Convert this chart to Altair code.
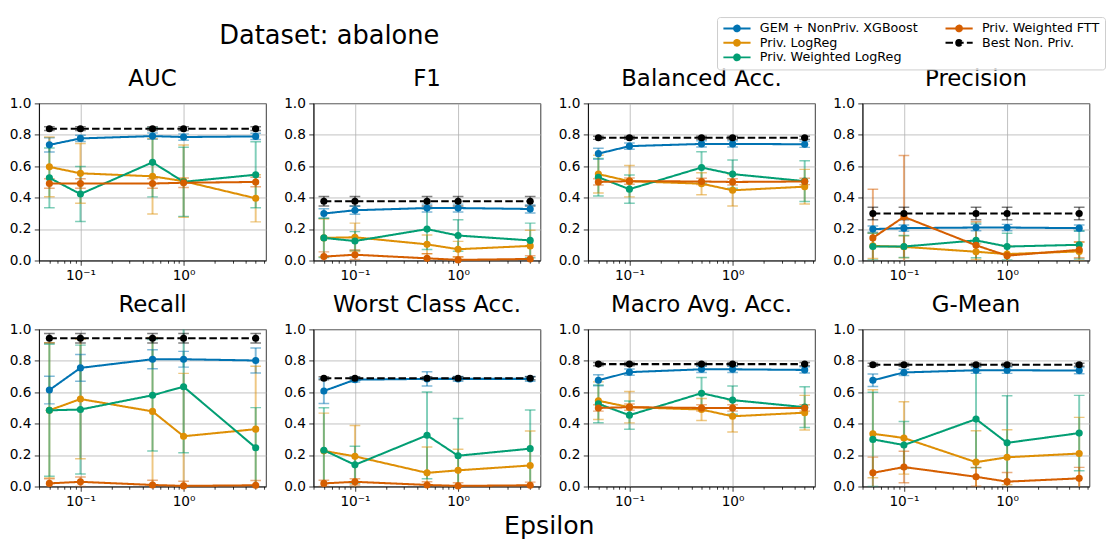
import altair as alt
import pandas as pd

EPS = [0.05, 0.1, 0.5, 1.0, 5.0]
METRICS = ["AUC", "F1", "Balanced Acc.", "Precision",
           "Recall", "Worst Class Acc.", "Macro Avg. Acc.", "G-Mean"]
SERIES = ["GEM + NonPriv. XGBoost", "Priv. LogReg", "Priv. Weighted LogReg",
          "Priv. Weighted FTT", "Best Non. Priv."]
SERIES_COLORS = ["#0173b2", "#de8f05", "#029e73", "#d55e00", "#000000"]
SERIES_DASH = [[1, 0], [1, 0], [1, 0], [1, 0], [7.7, 3.3]]

X_MAJOR = [0.1, 1.0]
X_MINOR = [0.04, 0.05, 0.06, 0.07, 0.08, 0.09, 0.2, 0.3, 0.4, 0.5, 0.6, 0.7,
           0.8, 0.9, 2.0, 3.0, 4.0, 5.0, 6.0]
Y_TICKS = [0.0, 0.2, 0.4, 0.6, 0.8, 1.0]

# each list of lists: one row per series (SERIES order), one value per epsilon
AUC_MEAN = [[0.736, 0.777, 0.792, 0.786, 0.790],
            [0.596, 0.555, 0.536, 0.505, 0.396],
            [0.526, 0.423, 0.625, 0.501, 0.546],
            [0.490, 0.490, 0.490, 0.495, 0.500],
            [0.839, 0.839, 0.839, 0.839, 0.839]]
AUC_ERR = [[0.045, 0.020, 0.020, 0.020, 0.020],
           [0.190, 0.190, 0.240, 0.230, 0.150],
           [0.190, 0.175, 0.220, 0.220, 0.210],
           [0.030, 0.030, 0.030, 0.030, 0.030],
           [0.012, 0.012, 0.012, 0.012, 0.012]]

F1_MEAN = [[0.299, 0.320, 0.334, 0.334, 0.328],
           [0.144, 0.148, 0.103, 0.072, 0.093],
           [0.144, 0.124, 0.200, 0.159, 0.128],
           [0.025, 0.037, 0.014, 0.004, 0.010],
           [0.377, 0.377, 0.377, 0.377, 0.377]]
F1_ERR = [[0.030, 0.025, 0.025, 0.025, 0.025],
          [0.120, 0.090, 0.060, 0.050, 0.100],
          [0.125, 0.060, 0.130, 0.100, 0.110],
          [0.030, 0.030, 0.030, 0.020, 0.020],
          [0.030, 0.030, 0.030, 0.030, 0.030]]

BAL_MEAN = [[0.680, 0.728, 0.742, 0.742, 0.740],
            [0.550, 0.505, 0.489, 0.447, 0.470],
            [0.530, 0.454, 0.592, 0.550, 0.505],
            [0.500, 0.505, 0.503, 0.500, 0.503],
            [0.781, 0.781, 0.781, 0.781, 0.781]]
BAL_ERR = [[0.035, 0.020, 0.020, 0.020, 0.020],
           [0.120, 0.100, 0.070, 0.100, 0.110],
           [0.120, 0.090, 0.100, 0.090, 0.130],
           [0.020, 0.020, 0.020, 0.020, 0.020],
           [0.010, 0.010, 0.010, 0.010, 0.010]]

PREC_MEAN = [[0.200, 0.206, 0.210, 0.210, 0.206],
             [0.093, 0.087, 0.056, 0.041, 0.058],
             [0.089, 0.089, 0.128, 0.089, 0.100],
             [0.144, 0.278, 0.097, 0.031, 0.068],
             [0.299, 0.299, 0.299, 0.299, 0.299]]
PREC_ERR = [[0.020, 0.020, 0.020, 0.020, 0.020],
            [0.080, 0.070, 0.050, 0.050, 0.060],
            [0.085, 0.070, 0.110, 0.085, 0.090],
            [0.310, 0.390, 0.150, 0.060, 0.050],
            [0.040, 0.040, 0.040, 0.040, 0.040]]

REC_MEAN = [[0.614, 0.755, 0.810, 0.810, 0.802],
            [0.485, 0.557, 0.478, 0.320, 0.365],
            [0.485, 0.490, 0.581, 0.635, 0.247],
            [0.020, 0.030, 0.010, 0.004, 0.008],
            [0.944, 0.944, 0.944, 0.944, 0.944]]
REC_ERR = [[0.088, 0.085, 0.060, 0.050, 0.080],
           [0.430, 0.380, 0.470, 0.400, 0.400],
           [0.420, 0.410, 0.355, 0.420, 0.255],
           [0.030, 0.030, 0.030, 0.030, 0.030],
           [0.030, 0.030, 0.030, 0.030, 0.030]]

WORST_MEAN = [[0.608, 0.680, 0.685, 0.685, 0.685],
              [0.227, 0.192, 0.087, 0.103, 0.134],
              [0.231, 0.138, 0.326, 0.196, 0.241],
              [0.020, 0.030, 0.010, 0.004, 0.008],
              [0.689, 0.689, 0.689, 0.689, 0.689]]
WORST_ERR = [[0.080, 0.015, 0.045, 0.015, 0.015],
             [0.240, 0.196, 0.165, 0.134, 0.220],
             [0.270, 0.118, 0.276, 0.237, 0.246],
             [0.020, 0.020, 0.020, 0.020, 0.020],
             [0.010, 0.010, 0.010, 0.010, 0.010]]

MACRO_MEAN = [[0.676, 0.728, 0.746, 0.746, 0.742],
              [0.546, 0.505, 0.490, 0.447, 0.470],
              [0.526, 0.454, 0.594, 0.550, 0.505],
              [0.500, 0.505, 0.500, 0.500, 0.500],
              [0.779, 0.779, 0.779, 0.779, 0.779]]
MACRO_ERR = [[0.035, 0.020, 0.020, 0.020, 0.020],
             [0.120, 0.100, 0.070, 0.100, 0.110],
             [0.120, 0.090, 0.100, 0.090, 0.130],
             [0.020, 0.020, 0.020, 0.020, 0.020],
             [0.010, 0.010, 0.010, 0.010, 0.010]]

GMEAN_MEAN = [[0.676, 0.726, 0.740, 0.740, 0.738],
              [0.336, 0.309, 0.155, 0.186, 0.210],
              [0.300, 0.264, 0.429, 0.278, 0.340],
              [0.087, 0.124, 0.062, 0.031, 0.052],
              [0.775, 0.775, 0.775, 0.775, 0.775]]
GMEAN_ERR = [[0.040, 0.020, 0.020, 0.020, 0.020],
             [0.280, 0.230, 0.200, 0.175, 0.230],
             [0.300, 0.150, 0.310, 0.300, 0.240],
             [0.100, 0.100, 0.060, 0.058, 0.070],
             [0.010, 0.010, 0.010, 0.010, 0.010]]

TABLES = {
    "AUC": (AUC_MEAN, AUC_ERR),
    "F1": (F1_MEAN, F1_ERR),
    "Balanced Acc.": (BAL_MEAN, BAL_ERR),
    "Precision": (PREC_MEAN, PREC_ERR),
    "Recall": (REC_MEAN, REC_ERR),
    "Worst Class Acc.": (WORST_MEAN, WORST_ERR),
    "Macro Avg. Acc.": (MACRO_MEAN, MACRO_ERR),
    "G-Mean": (GMEAN_MEAN, GMEAN_ERR),
}

rows = []
for metric in METRICS:
    means, errs = TABLES[metric]
    for si, series in enumerate(SERIES):
        for ei, eps in enumerate(EPS):
            rows.append({"metric": metric, "series": series, "order": si,
                         "eps": eps, "mean": means[si][ei], "err": errs[si][ei]})
df = pd.DataFrame(rows)

FONT = "DejaVu Sans"

SYMBOL_PATH = ("M-1,0L4.6,0M1.2,0A0.6,0.6,0,1,1,2.4,0"
               "A0.6,0.6,0,1,1,1.2,0Z")

major_test = "datum.value == 0.1 || datum.value == 1"
x_enc = alt.X(
    "eps:Q",
    scale=alt.Scale(type="log", domain=[0.0397, 6.295], nice=False),
    axis=alt.Axis(
        values=sorted(X_MAJOR + X_MINOR),
        labelExpr="datum.value == 0.1 ? '10⁻¹' : (datum.value == 1 ? '10⁰' : '')",
        tickSize={"condition": {"test": major_test, "value": 4.9}, "value": 2.8},
        gridOpacity={"condition": {"test": major_test, "value": 1}, "value": 0},
        labelOverlap=False, labelFlush=False, title=None,
    ),
)
y_axis = alt.Axis(values=Y_TICKS, format=".1f", title=None, labelOverlap=False)
y_scale = alt.Scale(domain=[0, 1], nice=False, zero=False)

color_scale = alt.Scale(domain=SERIES, range=SERIES_COLORS)
dash_scale = alt.Scale(domain=SERIES, range=SERIES_DASH)

legend = alt.Legend(
    title=None, orient="none", legendX=699, legendY=-89, columns=2,
    symbolType=SYMBOL_PATH, symbolSize=100, symbolStrokeWidth=2,
    symbolOpacity=1, labelFontSize=13.1, labelFont=FONT, labelColor="#000000",
    labelLimit=400, labelOffset=26, columnPadding=23, rowPadding=0, padding=5,
    strokeColor="#cccccc", fillColor="rgba(255,255,255,0.8)", cornerRadius=3,
)
color_enc = alt.Color("series:N", scale=color_scale, legend=legend)

base = alt.Chart()

bars = base.mark_rule(clip=True, strokeWidth=2, opacity=0.5).encode(
    x=x_enc,
    y=alt.Y("lo:Q", scale=y_scale, axis=y_axis),
    y2="hi:Q",
    color=color_enc,
).transform_calculate(lo="datum.mean - datum.err", hi="datum.mean + datum.err")

cap_lo = base.mark_tick(clip=True, orient="horizontal", size=11, thickness=1.5,
                        opacity=0.5).encode(
    x=x_enc,
    y=alt.Y("lo:Q", scale=y_scale, axis=y_axis),
    color=color_enc,
).transform_calculate(lo="datum.mean - datum.err")

cap_hi = base.mark_tick(clip=True, orient="horizontal", size=11, thickness=1.5,
                        opacity=0.5).encode(
    x=x_enc,
    y=alt.Y("hi:Q", scale=y_scale, axis=y_axis),
    color=color_enc,
).transform_calculate(hi="datum.mean + datum.err")

lines = base.mark_line(strokeWidth=2.1).encode(
    x=x_enc,
    y=alt.Y("mean:Q", scale=y_scale, axis=y_axis),
    color=color_enc,
    strokeDash=alt.StrokeDash("series:N", scale=dash_scale, legend=legend),
    order="eps:Q",
)

points = base.mark_circle(size=54, opacity=1).encode(
    x=x_enc,
    y=alt.Y("mean:Q", scale=y_scale, axis=y_axis),
    color=color_enc,
    order="order:Q",
)

layered = alt.layer(bars, cap_lo, cap_hi, lines, points, data=df).properties(
    width=234, height=162)

facet = layered.facet(
    facet=alt.Facet("metric:N", sort=METRICS,
                    header=alt.Header(title=None, labelFontSize=23.6,
                                      labelFont=FONT, labelColor="#000000",
                                      labelPadding=6)),
    columns=4,
    spacing={"row": 11, "column": 16},
).resolve_axis(x="independent", y="independent").properties(
    title=alt.Title("Epsilon", orient="bottom", anchor="middle", fontSize=26,
                    font=FONT, fontWeight="normal", color="#000000", offset=5)
)

chart = alt.vconcat(facet).properties(
    title=alt.Title("Dataset: abalone", anchor="start", dx=217, fontSize=26.5,
                    font=FONT, fontWeight="normal", color="#000000", offset=-34),
    padding={"left": 0, "top": 0, "right": 0, "bottom": 0},
).configure(font=FONT).configure_view(
    stroke="#000000", strokeWidth=0.8
).configure_axis(
    labelFont=FONT, labelFontSize=14.1, labelColor="#000000",
    tickColor="#000000", tickWidth=0.8, tickSize=4.9, labelPadding=3.5,
    domainColor="#000000", domainWidth=0.8,
    gridColor="#b0b0b0", gridWidth=0.8,
)

chart.save("out.html", embed_options={"renderer": "svg", "actions": False})
